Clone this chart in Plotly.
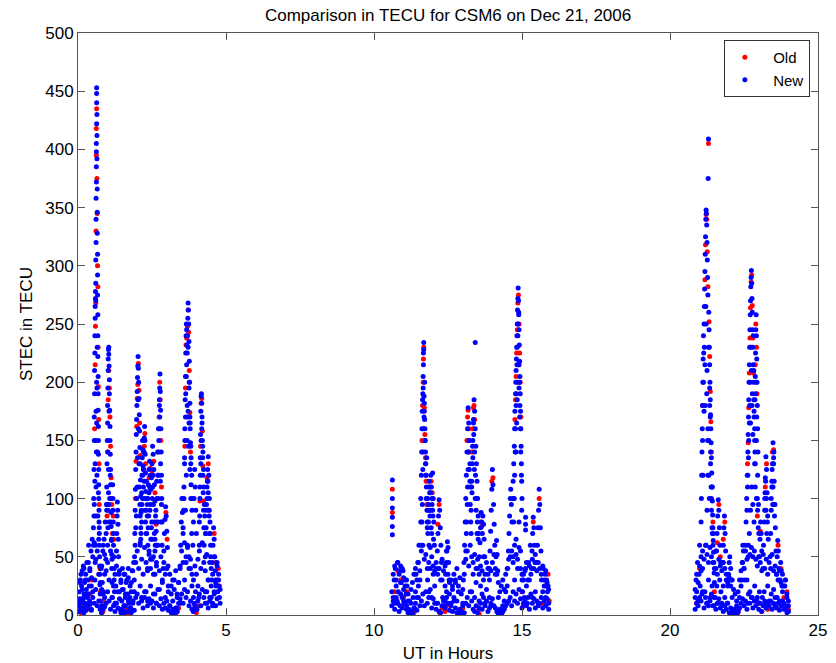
import plotly.graph_objects as go

# ---------------- NEW series (blue): spike passes ----------------
new_t_1 = [
    0.02,0.04,0.06,0.08,0.10,0.12,0.14,0.16,0.18,0.20,0.22,0.24,0.26,0.28,0.30,0.32,0.34,0.36,0.38,0.40,0.42,0.44,0.46,0.48,0.50,
    0.03,0.09,0.15,0.21,0.27,0.33,0.39,0.45,
    0.52,0.53,0.54,0.55,0.55,0.56,0.56,0.57,0.57,0.58,0.58,0.59,0.59,0.60,
    0.60,0.60,0.61,0.61,0.61,0.62,0.62,0.62,0.62,0.63,0.63,0.63,0.63,
    0.64,0.64,0.64,0.65,0.65,0.65,0.66,0.66,0.66,0.67,0.67,0.67,0.68,0.68,0.68,0.69,0.69,0.69,0.70,0.70,0.70,0.71,0.71,0.72,0.72,0.73,0.73,0.74,0.74,0.75,
    0.57,0.58,0.59,0.60,0.61,0.62,0.63,0.64,0.65,
    0.76,0.78,0.80,0.82,0.84,0.86,0.88,0.90,0.92,0.94,0.96,0.85,0.90,0.80,
    0.97,0.98,0.99,1.00,1.00,1.01,1.02,1.02,1.03,1.04,1.04,1.05,1.06,1.06,1.07,1.08,1.08,1.09,1.10,1.10,1.11,1.12,1.12,1.13,1.14,1.14,1.15,1.16,
    1.00,1.01,1.02,1.03,1.04,1.05,
    1.17,1.18,1.18,1.19,1.20,1.20,1.21,1.22,1.22,1.23,
    1.30,1.31,1.32,1.33,1.34,1.35,1.36,1.37,1.38,
    1.25,1.28,1.40,1.42,1.45,1.48,1.50,1.53,1.56,1.58,1.60,1.63,1.66,1.68,1.70,1.73,1.76,1.78,1.80,1.83,1.86,1.88,
    1.90,1.91,1.92,1.93,1.94,1.95,1.96,1.97,1.98,1.99,2.00,2.01,2.02,2.03,2.04,2.05,2.06,2.07,2.08,2.09,2.10,2.11,2.12,2.13,
    2.10,2.12,2.14,2.15,2.16,2.17,2.18,2.19,2.20,
    2.21,2.22,2.23,2.24,2.25,2.26,2.27,2.28,2.29,2.30,
    2.32,2.34,2.36,2.38,2.40,2.42,2.44,2.46,2.48,2.50,2.52,2.54,2.56,2.58,2.60,2.62,2.64,2.66,
    2.35,2.40,2.45,2.50,2.55,2.60,2.65,
    2.70,2.71,2.72,2.73,2.74,2.75,2.76,2.77,2.78,2.79,2.80,2.81,2.82,2.83,2.84,
    2.88,2.90,2.92,2.94,2.96,2.98,3.00,3.02,3.04,
    2.15,2.25,2.35,2.45,2.55,2.65,2.75,2.85,2.95,3.05,3.10,3.15,3.20,3.25,3.30,3.35,3.40,3.45,
    3.22,3.28,3.34,
    3.45,3.47,3.49,3.51,3.53,3.55,
    3.58,3.60,3.61,3.62,3.63,3.64,3.65,3.66,3.67,3.68,3.69,3.70,3.71,3.72,3.73,3.74,3.75,3.76,3.77,3.78,3.79,3.80,3.81,3.82,
    3.63,3.66,3.69,3.72,3.75,3.78,3.81,3.84,3.86,
    3.60,3.65,3.70,3.75,3.80,3.85,3.90,
    3.88,3.90,3.92,3.94,3.96,3.98,4.00,
    3.92,3.97,4.02,4.05,4.08,
    4.10,4.11,4.12,4.13,4.14,4.15,4.16,4.17,4.18,4.19,4.20,4.21,4.22,4.23,4.24,4.25,4.26,
    4.30,4.32,4.34,4.36,4.38,4.40,4.42,4.44,4.46,4.48,
    4.52,4.54,4.56,4.58,4.60,4.62,4.64,4.66,
    4.30,4.35,4.40,4.45,4.50,4.55,4.60,4.65,4.70,4.72,4.75,4.78,
]
new_v_1 = [
    8,20,14,30,5,25,38,12,42,18,28,9,35,22,45,15,30,60,25,40,10,55,32,65,20,
    3,10,6,15,4,8,12,5,
    75,100,125,150,170,190,210,225,240,255,265,272,278,270,
    285,305,320,340,358,372,385,398,405,422,440,448,453,
    430,412,392,366,346,328,310,292,275,258,240,222,205,190,176,162,150,138,125,112,100,90,80,70,60,50,42,35,26,18,
    30,45,60,85,110,140,165,195,230,
    12,40,8,28,55,20,65,35,80,48,95,5,15,22,
    110,130,150,165,180,195,210,220,228,230,224,214,202,190,176,162,150,138,125,112,100,88,76,64,52,40,28,15,
    60,75,90,105,95,80,
    112,100,90,80,70,60,50,40,30,20,
    55,70,85,97,90,78,65,50,35,
    10,25,20,5,30,12,40,22,8,35,15,28,3,18,32,10,25,6,20,38,12,45,
    30,50,70,90,108,125,140,155,168,180,192,204,214,222,212,200,186,172,158,144,130,116,102,88,
    60,75,90,105,120,135,150,142,128,
    110,125,140,152,162,150,138,122,106,90,
    70,85,100,112,125,132,120,108,118,130,145,138,125,112,98,85,72,60,
    40,55,48,65,50,35,45,
    80,100,120,140,160,180,195,207,192,176,160,140,120,100,80,
    40,55,70,82,93,85,72,58,42,
    15,20,12,25,18,10,22,30,15,20,8,25,12,30,5,18,28,10,
    3,2,6,
    40,60,80,100,88,70,
    100,130,160,185,205,225,240,250,245,232,225,240,255,268,262,250,235,218,200,182,165,148,130,112,
    90,120,150,175,195,170,145,120,100,
    30,45,60,50,40,25,15,
    60,80,100,125,110,90,70,
    10,20,5,25,15,
    60,85,110,135,155,175,188,190,182,165,150,135,120,105,90,75,60,
    50,70,90,110,125,136,120,100,80,60,
    30,45,60,75,65,50,38,25,
    20,10,30,15,25,8,18,30,45,20,35,15,
]

new_t_2 = [
    10.62,10.62,10.62,10.62,10.62,10.62,
    10.65,10.68,10.70,10.72,10.75,10.78,10.80,10.82,10.85,10.88,10.90,10.92,10.95,10.98,11.00,11.02,11.05,11.08,11.10,11.12,11.15,11.18,
    11.22,11.25,11.28,11.32,11.36,11.40,
    11.42,11.45,11.48,11.50,11.52,11.55,11.58,
    11.58,11.60,11.61,11.62,11.63,11.64,11.65,11.66,11.66,11.67,11.67,11.68,11.68,11.69,11.70,11.70,11.71,11.72,11.73,11.74,11.75,11.76,11.77,11.78,11.79,11.80,
    11.82,11.84,11.86,11.88,11.90,11.92,11.94,11.96,11.98,12.00,12.02,12.04,
    11.81,11.85,11.90,11.95,12.00,12.05,12.10,
    12.12,12.14,12.16,12.18,12.20,12.22,12.24,12.26,12.28,12.30,
    12.40,12.42,12.44,12.46,12.48,12.50,12.52,12.54,
    12.32,12.36,12.40,12.45,12.55,12.60,12.65,12.70,12.75,12.80,12.85,12.90,12.95,13.00,
    13.02,13.04,13.06,13.08,13.10,13.12,13.14,13.16,13.18,13.20,13.22,13.24,13.26,
    13.42,
    13.28,13.30,13.32,13.34,13.36,13.38,13.40,13.42,13.44,13.46,13.48,13.50,13.52,13.54,
    13.56,13.58,13.60,13.62,13.64,13.66,13.68,13.70,13.72,13.74,
    13.30,13.35,13.40,13.45,13.50,13.55,13.60,13.65,13.70,13.75,13.80,13.85,13.90,13.95,
    13.90,13.92,13.94,13.96,13.98,14.00,14.02,14.04,14.06,14.08,
    14.10,14.12,14.14,14.16,14.18,
    14.20,14.25,14.30,14.35,14.40,14.45,14.50,
    14.52,14.54,14.56,14.58,14.60,14.62,14.64,14.66,
    14.68,14.70,14.72,14.74,14.75,14.76,14.78,14.79,14.80,14.81,14.82,14.83,14.84,14.85,14.86,14.87,14.88,14.89,14.90,14.91,14.92,14.93,14.94,14.95,14.96,14.97,14.98,14.99,15.00,
    14.80,14.82,14.84,14.86,14.88,14.90,14.92,
    14.70,14.75,14.80,14.85,14.90,14.95,15.00,
    15.02,15.05,15.08,15.12,15.15,15.18,15.22,15.25,15.28,
    15.12,15.12,15.12,
    15.32,15.34,15.36,15.38,15.40,15.42,15.44,
    15.50,15.52,15.54,15.56,15.58,15.60,15.62,15.64,
    15.66,15.70,15.72,15.75,15.78,15.80,15.83,15.86,15.88,15.90,
    15.35,15.45,15.55,
]
new_v_2 = [
    116,100,92,84,76,69,
    15,30,10,40,25,12,45,20,35,8,42,28,15,38,22,10,30,18,8,25,12,5,
    3,10,2,15,6,20,
    35,15,45,25,60,30,80,
    100,120,140,160,175,185,190,195,205,215,225,234,228,188,182,175,168,160,150,140,130,120,110,100,90,80,
    70,95,115,105,90,120,110,95,122,100,80,60,
    30,20,40,15,35,25,10,
    40,55,70,85,99,90,75,60,45,30,
    25,35,45,55,63,58,45,30,
    15,8,12,20,18,10,25,15,30,12,20,5,2,10,
    30,45,60,80,100,120,140,160,178,165,150,130,110,
    234,
    90,110,130,150,168,185,175,160,145,130,115,100,85,70,
    50,62,75,88,80,70,85,78,65,50,
    20,35,15,28,40,12,25,18,30,10,22,35,15,8,
    40,55,72,90,108,125,112,95,78,60,
    35,50,64,52,38,
    15,5,2,8,12,20,25,
    40,55,70,85,100,108,95,80,
    100,115,130,145,160,175,190,200,210,220,230,240,250,262,272,281,270,258,245,232,218,205,190,175,160,145,130,115,100,
    140,165,185,200,215,195,170,
    50,30,65,40,80,55,30,
    20,35,15,40,25,10,45,30,60,
    84,78,73,
    40,55,70,84,75,60,45,
    45,60,75,90,108,95,75,55,
    30,20,40,25,35,15,30,20,25,10,
    15,20,10,
]

new_t_3 = [
    20.85,20.88,20.90,20.93,20.95,20.98,21.00,21.02,21.05,21.08,21.10,
    21.05,21.06,21.07,21.08,21.09,21.10,21.11,21.12,21.13,21.14,
    21.15,21.16,21.17,21.18,21.19,21.20,21.21,21.22,21.23,21.24,21.25,21.26,21.27,21.28,21.29,21.30,21.31,21.32,
    21.33,21.34,21.35,21.36,21.37,21.38,21.39,21.40,21.41,21.42,21.43,21.44,21.45,21.46,21.47,21.48,21.49,21.50,
    21.22,21.25,21.28,21.31,21.34,21.37,21.40,21.43,
    21.18,21.24,21.30,21.36,21.42,21.48,
    21.55,21.57,21.59,21.61,21.63,21.65,21.67,21.69,21.71,
    21.78,21.80,21.82,21.84,21.86,21.88,
    21.95,21.98,22.00,22.02,22.05,22.08,
    21.52,21.58,21.62,21.68,21.72,21.76,21.80,21.85,21.90,21.93,22.10,22.15,22.20,22.25,22.30,22.35,22.40,
    22.42,22.44,22.46,22.48,22.50,22.52,
    22.55,22.57,22.59,22.61,22.63,22.64,22.65,22.66,22.67,22.68,22.69,22.70,22.71,22.72,22.73,22.74,22.75,22.76,22.77,22.78,22.79,22.80,22.81,22.82,22.83,22.84,22.86,22.88,
    22.86,22.87,22.88,22.89,22.90,22.91,22.92,22.93,22.94,22.95,22.96,22.97,
    22.60,22.64,22.68,22.72,22.76,22.80,22.84,22.88,22.92,22.96,23.00,
    22.62,22.70,22.78,22.86,22.94,23.02,
    23.02,23.04,23.06,23.08,23.10,
    23.14,23.16,23.18,23.20,23.22,23.24,23.26,23.28,23.30,23.32,
    23.38,23.40,23.42,23.44,23.46,23.48,23.50,23.52,23.54,23.56,23.58,
    23.60,23.62,23.64,23.66,23.68,
    23.72,23.74,23.76,23.78,
    23.12,23.18,23.25,23.30,23.35,23.42,23.50,23.55,23.62,23.70,23.80,23.85,23.88,23.92,23.95,23.98,24.00,
]
new_v_3 = [
    15,30,20,45,12,35,60,25,50,18,40,
    80,100,120,140,160,180,200,220,240,225,
    250,265,280,295,310,325,340,348,345,335,320,305,290,275,375,409,260,245,
    230,215,200,185,172,160,148,135,122,110,98,86,75,64,54,45,36,28,
    60,90,120,150,180,140,100,70,
    20,10,30,15,25,8,
    40,55,70,85,99,90,75,60,45,
    45,60,75,85,70,55,
    25,35,45,50,40,30,
    15,25,10,30,20,8,25,15,30,10,15,5,2,8,3,15,25,
    30,45,60,55,40,30,
    60,80,100,120,140,155,170,185,200,215,230,245,258,270,282,290,296,285,272,260,245,230,215,200,185,170,150,130,
    160,185,205,225,245,258,240,220,200,180,160,140,
    30,50,70,90,110,95,80,110,100,90,70,
    10,20,15,25,12,20,
    50,65,80,70,55,
    40,60,80,100,118,136,125,105,85,65,
    50,70,90,110,130,148,135,115,95,75,55,
    35,50,64,55,40,
    30,45,38,25,
    15,20,10,25,12,18,22,8,15,12,20,10,25,5,15,3,8,
]

# ---------------- NEW series: mid-level fill inside the passes ----------------
mid_t_1 = [
    0.55,0.58,0.61,0.64,0.67,0.70,
    0.95,0.99,1.03,1.07,1.11,
    1.95,1.98,2.01,2.04,2.07,2.10,2.13,2.16,2.19,2.22,2.25,2.28,2.31,2.34,2.37,2.40,2.43,2.46,2.49,2.52,
    2.55,2.58,2.61,2.64,2.67,2.70,2.73,2.76,2.79,2.82,
    3.55,3.58,3.61,3.64,3.67,3.70,3.73,3.76,3.79,3.82,3.85,
    4.10,4.13,4.16,4.19,4.22,4.25,4.28,4.31,4.34,4.37,4.40,4.43,4.46,
]
mid_v_1 = [
    95,130,175,120,85,65,
    70,95,125,100,80,
    75,100,135,160,110,85,70,95,120,140,100,80,115,95,75,105,90,65,80,110,
    95,70,60,80,100,120,150,170,130,95,
    75,110,150,190,215,170,145,200,160,135,90,
    80,120,150,170,140,110,85,70,95,115,105,85,70,
]
mid2_t_1 = [
    0.52,0.54,0.57,0.60,0.63,0.66,0.69,0.72,
    0.97,1.01,1.05,1.09,1.13,
    1.93,1.97,2.00,2.03,2.06,2.09,2.12,2.15,2.18,2.21,2.24,2.27,2.30,2.33,2.36,2.39,2.42,2.45,2.48,2.51,
    2.54,2.57,2.60,2.63,2.66,2.69,2.72,2.75,2.78,2.81,2.84,
    3.57,3.60,3.63,3.66,3.69,3.72,3.75,3.78,3.81,3.84,
    4.12,4.15,4.18,4.21,4.24,4.27,4.33,4.36,4.39,4.42,4.45,4.48,
]
mid2_v_1 = [
    60,85,115,150,200,140,105,75,
    90,140,175,120,65,
    60,85,110,185,130,95,65,80,100,125,115,90,70,100,60,85,110,95,75,100,
    120,80,65,90,115,140,160,185,115,80,60,
    90,135,170,205,180,230,165,125,100,70,
    100,130,160,145,125,95,75,100,115,90,70,50,
]
mid_t_2 = [
    11.60,11.63,11.66,11.69,11.72,11.75,11.78,11.81,11.84,11.87,11.90,11.93,11.96,11.99,
    13.10,13.13,13.16,13.19,13.22,13.25,13.28,13.31,13.34,13.37,13.40,13.43,13.46,13.49,13.52,
    14.72,14.75,14.78,14.81,14.84,14.87,14.90,14.93,14.96,14.99,
]
mid_v_2 = [
    60,95,140,170,150,120,135,100,80,110,90,75,100,85,
    55,80,110,140,125,95,70,105,135,155,140,120,100,80,65,
    80,120,160,190,230,250,215,180,140,90,
]
mid2_t_2 = [
    11.62,11.65,11.68,11.71,11.74,11.77,11.80,11.83,11.86,11.89,11.92,11.95,11.98,12.01,
    13.12,13.15,13.18,13.21,13.24,13.27,13.30,13.33,13.36,13.39,13.42,13.45,13.48,
    14.74,14.77,14.80,14.83,14.86,14.89,14.92,14.95,14.98,
]
mid2_v_2 = [
    80,125,160,200,130,100,75,90,60,85,105,70,90,65,
    70,95,125,150,115,80,115,145,165,125,100,90,70,
    100,140,180,215,240,260,200,160,120,
]
mid_t_3 = [
    21.10,21.13,21.16,21.19,21.22,21.25,21.28,21.31,21.34,21.37,21.40,21.43,21.46,
    22.60,22.63,22.66,22.69,22.72,22.75,22.78,22.81,22.84,22.87,22.90,22.93,22.96,22.99,
    23.20,23.23,23.26,23.29,23.42,23.45,23.48,23.51,23.54,
]
mid_v_3 = [
    150,200,230,180,250,210,160,120,195,130,90,110,70,
    90,120,150,180,165,210,190,240,175,140,200,170,120,95,
    90,115,100,80,100,125,110,140,95,
]
mid2_t_3 = [
    21.12,21.15,21.18,21.21,21.24,21.27,21.30,21.33,21.36,21.39,21.42,21.45,
    22.62,22.65,22.68,22.71,22.74,22.77,22.80,22.83,22.86,22.89,22.92,22.95,22.98,
    23.21,23.24,23.27,23.44,23.47,23.50,23.53,
]
mid2_v_3 = [
    120,175,215,265,190,150,230,100,170,110,75,60,
    110,135,165,200,230,180,155,210,130,190,150,100,75,
    105,90,70,115,95,130,85,
]

# ---------------- NEW series: dense low-level band (two readings per epoch) ----------------
low_t_1 = [
    0.00,0.05,0.10,0.15,0.20,0.25,0.30,0.35,0.40,0.45,
    0.50,0.55,0.60,0.65,0.70,0.75,0.80,0.85,0.90,0.95,
    1.00,1.05,1.10,1.15,1.20,1.25,1.30,1.35,1.40,1.45,
    1.50,1.55,1.60,1.65,1.70,1.75,1.80,1.85,1.90,1.95,
    2.00,2.05,2.10,2.15,2.20,2.25,2.30,2.35,2.40,2.45,
    2.50,2.55,2.60,2.65,2.70,2.75,2.80,2.85,2.90,2.95,
    3.00,3.05,3.10,3.15,3.20,3.25,3.30,3.35,3.40,3.45,
    3.50,3.55,3.60,3.65,3.70,3.75,3.80,3.85,3.90,3.95,
    4.00,4.05,4.10,4.15,4.20,4.25,4.30,4.35,4.40,4.45,
    4.50,4.55,4.60,4.65,4.70,4.75,4.80,
]
low_va_1 = [
    12,28,35,22,40,30,18,45,38,25,
    50,62,48,55,35,28,42,60,52,38,
    45,30,55,48,25,35,42,20,38,28,
    22,35,18,30,40,15,28,38,20,45,
    55,40,62,48,35,58,45,38,52,40,
    48,35,55,42,60,38,50,28,45,35,
    40,25,35,18,30,22,38,15,28,42,
    55,45,62,50,58,40,48,35,30,42,
    35,48,55,40,62,45,38,52,30,45,
    40,35,50,28,42,30,22,
]
low_vb_1 = [
    3,8,5,14,2,10,6,18,9,4,
    15,10,22,8,12,5,2,18,7,10,
    20,12,5,15,8,3,10,6,14,2,
    5,1,8,3,12,6,2,10,4,15,
    18,10,25,12,6,15,20,8,14,10,
    12,6,18,10,22,8,14,5,10,6,
    12,4,8,2,5,1,6,3,10,14,
    18,10,22,15,20,8,12,5,3,8,
    5,12,18,8,22,15,10,20,6,12,
    15,10,20,8,14,25,10,
]
low_t_2 = [
    10.60,10.65,10.70,10.75,10.80,10.85,10.90,10.95,11.00,11.05,
    11.10,11.15,11.20,11.25,11.30,11.35,11.40,11.45,11.50,11.55,
    11.60,11.65,11.70,11.75,11.80,11.85,11.90,11.95,12.00,12.05,
    12.10,12.15,12.20,12.25,12.30,12.35,12.40,12.45,12.50,12.55,
    12.60,12.65,12.70,12.75,12.80,12.85,12.90,12.95,13.00,13.05,
    13.10,13.15,13.20,13.25,13.30,13.35,13.40,13.45,13.50,13.55,
    13.60,13.65,13.70,13.75,13.80,13.85,13.90,13.95,14.00,14.05,
    14.10,14.15,14.20,14.25,14.30,14.35,14.40,14.45,14.50,14.55,
    14.60,14.65,14.70,14.75,14.80,14.85,14.90,14.95,15.00,15.05,
    15.10,15.15,15.20,15.25,15.30,15.35,15.40,15.45,15.50,15.55,
    15.60,15.65,15.70,15.75,15.80,15.85,15.90,
]
low_va_2 = [
    20,35,42,30,45,38,28,40,32,25,
    30,18,12,22,28,35,40,30,45,38,
    55,60,48,52,40,45,58,50,42,38,
    45,35,40,30,48,38,42,55,35,28,
    30,22,35,28,40,25,32,18,22,35,
    48,55,42,60,50,45,52,40,48,35,
    42,38,50,35,45,40,30,38,45,52,
    40,35,28,20,25,30,22,35,40,48,
    50,55,45,60,52,48,58,40,35,30,
    38,45,30,42,35,48,40,52,38,45,
    40,35,42,30,38,28,22,
]
low_vb_2 = [
    8,12,5,15,10,3,18,6,12,9,
    5,2,0,3,1,6,10,4,15,8,
    12,18,8,20,10,15,22,6,14,10,
    5,10,3,2,8,12,6,15,10,4,
    8,3,12,6,2,1,4,3,8,2,
    10,15,8,20,12,5,3,8,2,6,
    10,5,15,8,12,3,6,10,14,8,
    6,3,1,2,0,3,5,8,10,12,
    15,8,20,12,18,10,22,14,6,10,
    12,8,15,5,18,10,14,6,12,8,
    10,15,6,12,8,14,5,
]
low_t_3 = [
    20.85,20.90,20.95,21.00,21.05,21.10,21.15,21.20,21.25,21.30,
    21.35,21.40,21.45,21.50,21.55,21.60,21.65,21.70,21.75,21.80,
    21.85,21.90,21.95,22.00,22.05,22.10,22.15,22.20,22.25,22.30,
    22.35,22.40,22.45,22.50,22.55,22.60,22.65,22.70,22.75,22.80,
    22.85,22.90,22.95,23.00,23.05,23.10,23.15,23.20,23.25,23.30,
    23.35,23.40,23.45,23.50,23.55,23.60,23.65,23.70,23.75,23.80,
    23.85,23.90,23.95,24.00,
]
low_va_3 = [
    22,35,28,42,38,55,48,60,52,45,
    58,50,45,40,55,35,48,42,38,45,
    40,35,28,32,25,30,22,18,12,20,
    30,38,45,40,55,48,60,52,58,50,
    55,48,42,50,45,38,52,40,48,35,
    45,40,52,38,42,35,30,38,28,35,
    25,30,18,12,
]
low_vb_3 = [
    5,10,8,15,12,20,6,15,10,8,
    12,18,8,15,5,10,14,6,10,3,
    8,5,10,2,6,3,1,2,0,4,
    6,10,14,8,12,5,18,10,15,6,
    12,8,15,5,10,3,8,12,6,10,
    8,12,5,10,15,6,10,4,8,12,
    5,8,2,3,
]

# ---------------- OLD series (red) ----------------
old_t_1 = [
    0.10,0.20,0.30,0.40,0.48,
    0.56,0.58,0.59,0.60,0.61,0.62,0.62,0.63,0.64,0.65,0.66,0.67,0.68,0.69,0.70,0.71,0.72,
    0.74,0.76,0.78,0.80,0.82,0.84,0.86,
    0.98,1.00,1.02,1.04,1.06,1.08,1.10,1.12,1.14,1.16,
    1.19,1.21,
    1.50,1.55,1.60,1.65,1.70,1.75,1.80,
    1.94,1.96,1.98,2.00,2.02,2.04,2.06,2.08,2.10,
    2.24,2.26,2.28,
    2.40,2.44,2.50,2.56,2.60,2.64,
    2.74,2.76,2.78,2.80,2.82,
    2.97,3.01,
    3.20,3.25,3.30,3.35,3.40,
    3.61,3.63,3.65,3.67,3.70,3.72,3.74,3.76,3.78,3.80,
    3.90,3.95,4.00,4.05,
    4.12,4.14,4.16,4.18,4.20,4.22,4.24,
    4.36,4.40,4.44,
    4.60,4.65,4.70,4.74,4.78,
]
old_v_1 = [
    2,10,5,18,30,
    160,215,248,268,330,395,418,435,375,345,300,282,230,196,168,130,95,
    40,20,5,2,8,3,12,
    85,140,185,210,195,170,145,118,95,70,
    85,65,
    3,8,2,5,1,6,4,
    100,132,162,186,198,216,193,165,137,
    145,156,130,
    118,126,124,132,105,78,
    170,200,185,150,110,
    88,65,
    2,4,1,3,6,
    145,195,232,238,248,262,243,210,174,140,
    3,6,2,8,
    98,145,182,186,158,128,98,
    118,130,90,
    70,45,30,40,25,
]
old_t_2 = [
    10.62,10.62,
    10.70,10.80,10.90,11.00,11.10,
    11.20,11.25,11.30,11.35,11.40,
    11.62,11.64,11.66,11.67,11.68,11.70,11.72,11.74,11.76,11.78,
    11.87,11.93,11.97,
    12.16,12.20,
    12.22,12.30,12.40,12.45,
    12.90,12.95,13.00,
    13.14,13.16,13.18,13.20,13.22,
    13.32,13.34,13.36,13.38,13.40,
    13.60,13.64,
    13.50,13.55,
    13.98,14.02,
    14.25,14.30,14.35,14.40,
    14.76,14.78,14.80,14.82,14.84,14.86,14.88,14.90,14.92,14.94,14.96,
    15.00,15.04,
    15.38,15.58,
    15.70,15.80,15.88,15.92,
]
old_v_2 = [
    108,88,
    20,38,30,15,20,
    1,3,0,2,5,
    150,180,200,220,230,178,155,135,115,95,
    110,115,105,
    78,95,
    2,6,3,8,
    1,3,6,
    150,170,176,160,140,
    140,160,178,180,168,
    80,76,
    3,1,
    115,118,
    2,0,3,6,
    168,185,205,225,245,268,275,250,225,200,170,
    20,8,
    80,100,
    10,25,35,12,
]
old_t_3 = [
    20.90,21.00,21.10,
    21.18,21.20,21.22,21.24,21.26,21.28,21.30,21.32,21.34,21.36,21.38,21.40,
    21.45,21.50,21.60,21.65,21.70,21.80,21.85,
    22.10,22.15,22.20,22.25,22.30,
    22.62,22.64,22.66,22.68,22.70,22.72,22.74,22.76,22.78,22.80,22.82,
    22.88,22.90,22.92,22.94,
    22.95,23.00,23.05,
    23.22,23.26,23.46,23.50,
    23.65,23.75,23.85,23.90,23.95,24.00,
    23.10,23.30,
]
old_v_3 = [
    10,40,180,
    288,318,344,340,312,282,405,252,222,192,166,140,
    80,20,62,95,50,65,80,
    1,3,0,4,2,
    130,148,178,208,238,264,286,292,266,238,208,
    215,250,230,190,
    85,10,72,
    110,130,140,142,
    60,40,15,30,20,5,
    3,5,
]

x_ticks = [0, 5, 10, 15, 20, 25]
y_ticks = [0, 50, 100, 150, 200, 250, 300, 350, 400, 450, 500]

pairs = [(old_t_1, old_v_1), (old_t_2, old_v_2), (old_t_3, old_v_3),
         (new_t_1, new_v_1), (new_t_2, new_v_2), (new_t_3, new_v_3),
         (mid_t_1, mid_v_1), (mid_t_2, mid_v_2), (mid_t_3, mid_v_3),
         (mid2_t_1, mid2_v_1), (mid2_t_2, mid2_v_2), (mid2_t_3, mid2_v_3),
         (low_t_1, low_va_1), (low_t_1, low_vb_1), (low_t_2, low_va_2),
         (low_t_2, low_vb_2), (low_t_3, low_va_3), (low_t_3, low_vb_3)]
for a, b in pairs:
    assert len(a) == len(b), (len(a), len(b))

old_t = old_t_1 + old_t_2 + old_t_3
old_v = old_v_1 + old_v_2 + old_v_3
new_t = (low_t_1 + low_t_1 + low_t_2 + low_t_2 + low_t_3 + low_t_3
         + mid_t_1 + mid_t_2 + mid_t_3 + mid2_t_1 + mid2_t_2 + mid2_t_3
         + new_t_1 + new_t_2 + new_t_3)
new_v = (low_va_1 + low_vb_1 + low_va_2 + low_vb_2 + low_va_3 + low_vb_3
         + mid_v_1 + mid_v_2 + mid_v_3 + mid2_v_1 + mid2_v_2 + mid2_v_3
         + new_v_1 + new_v_2 + new_v_3)

FONT = "Liberation Sans, Arial, Helvetica, sans-serif"
NB = "\u00a0\u00a0"

fig = go.Figure()
fig.add_trace(go.Scatter(x=old_t, y=old_v, mode="markers", name=NB + "Old",
                         marker=dict(color="#ff0000", size=5, line=dict(width=0))))
fig.add_trace(go.Scatter(x=new_t, y=new_v, mode="markers", name=NB + "New",
                         marker=dict(color="#0000ff", size=5, line=dict(width=0))))

axis_common = dict(showgrid=False, zeroline=False, showline=True, linecolor="#555555",
                   linewidth=1, mirror="ticks", ticks="inside", ticklen=7, automargin=False,
                   tickcolor="#555555", tickfont=dict(family=FONT, size=17, color="black"))

fig.update_layout(
    width=836, height=663,
    margin=dict(l=78, r=18, t=33, b=48),
    paper_bgcolor="white", plot_bgcolor="white",
    title=dict(text="Comparison in TECU for CSM6 on Dec 21, 2006", x=0.536, xanchor="center",
               y=0.978, yanchor="middle", font=dict(family=FONT, size=17, color="black")),
    xaxis=dict(range=[0, 25], tickvals=x_ticks, ticktext=[str(v) for v in x_ticks],
               title=dict(text="UT in Hours", font=dict(family=FONT, size=17, color="black"), standoff=10),
               **axis_common),
    yaxis=dict(range=[0, 500], tickvals=y_ticks, ticktext=[str(v) for v in y_ticks],
               title=dict(text="STEC in TECU", font=dict(family=FONT, size=17, color="black"), standoff=8),
               **axis_common),
    legend=dict(x=0.989, y=0.988, xanchor="right", yanchor="top", bgcolor="white",
                bordercolor="#333333", borderwidth=1, font=dict(family=FONT, size=15, color="black"),
                itemsizing="trace", tracegroupgap=0),
    showlegend=True,
)

fig.write_html("out.html")
